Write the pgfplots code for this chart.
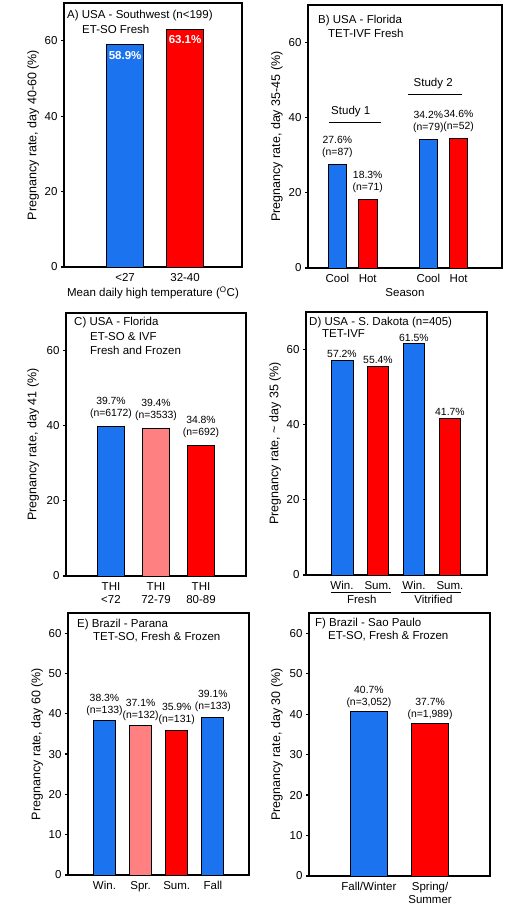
\documentclass[border=0pt]{standalone}
\usepackage{pgfplots}
\pgfplotsset{compat=1.18}
\usepackage{fontspec}
\setmainfont{Liberation Sans}
\definecolor{cblue}{RGB}{28,115,240}
\definecolor{cred}{RGB}{255,0,0}
\definecolor{cpink}{RGB}{255,128,128}
\newcommand{\fT}{\fontsize{11.5}{13}\selectfont}
\newcommand{\fL}{\fontsize{12.5}{14}\selectfont}
\newcommand{\fD}{\fontsize{10.4}{12}\selectfont}
\pgfplotsset{
  panel/.style={
    scale only axis, ybar, bar width=0.61, bar shift=0pt,
    ymin=0, ymax=70, ytick={0,20,40,60},
    /pgf/number format/assume math mode=true,
    tick label style={font=\fT},
    ytick pos=left, tick align=outside, major tick length=3pt,
    major x tick style={draw=none},
    major y tick style={line width=1.2pt, black},
    axis line style={line width=1.7pt},
    clip=false,
    every node near coord/.append style={font=\fD, align=center, black},
    ylabel style={anchor=center, font=\fL},
    xlabel style={font=\fT, at={(axis description cs:0.5,0)}, anchor=center},
    xticklabel style={align=center},
  },
  bblue/.style={fill=cblue, draw=black, line width=0.9pt},
  bred/.style={fill=cred, draw=black, line width=0.9pt},
  bpink/.style={fill=cpink, draw=black, line width=0.9pt},
  lab/.style={nodes near coords, point meta=explicit symbolic},
}
\tikzset{ttl/.style={anchor=west, inner sep=0pt, font=\fT}}
\begin{document}
\begin{tikzpicture}
\useasboundingbox (0pt,0pt) rectangle (521pt,907pt);
% ---------------- A
\begin{axis}[panel, at={(64pt,640pt)}, anchor=south west, width=178pt, height=264pt,
  xmin=-1.02, xmax=1.95, xtick={0,1}, xticklabels={<27,32-40},
  ylabel={Pregnancy rate, day 40-60 (\%)},
  ylabel style={at={(axis description cs:-0.174,0.5)}},
  xlabel={Mean daily high temperature (\textsuperscript{O}C)},
  xlabel style={yshift=-26pt}]
\addplot[bblue, lab, every node near coord/.append style={anchor=north, yshift=-3pt, white, font=\bfseries\fT}] coordinates {(0,58.9) [58.9\%]};
\addplot[bred, lab, every node near coord/.append style={anchor=north, yshift=-3pt, white, font=\bfseries\fT}] coordinates {(1,63.1) [63.1\%]};
\node[ttl, xshift=3pt, yshift=-13pt] at (rel axis cs:0,1) {A) USA - Southwest (n<199)};
\node[ttl, xshift=18pt, yshift=-26pt] at (rel axis cs:0,1) {ET-SO Fresh};
\end{axis}
% ---------------- B
\begin{axis}[panel, at={(308pt,639pt)}, anchor=south west, width=194pt, height=263pt,
  xmin=-0.97, xmax=5.43, xtick={0,1,3,4}, xticklabels={Cool,Hot,Cool,Hot},
  ylabel={Pregnancy rate, day 35-45 (\%)},
  ylabel style={at={(axis description cs:-0.160,0.5)}},
  xlabel={Season}, xlabel style={yshift=-25pt},
  every node near coord/.append style={yshift=3pt}]
\addplot[bblue, lab] coordinates {(0,27.6) [{27.6\%\\(n=87)}]};
\addplot[bred, lab] coordinates {(1,18.3) [{18.3\%\\(n=71)}]};
\addplot[bblue, lab] coordinates {(3,34.2) [{34.2\%\\(n=79)}]};
\addplot[bred, lab] coordinates {(4,34.6) [{34.6\%\\(n=52)}]};
\draw[line width=0.8pt] (axis cs:-0.28,38.8) -- (axis cs:1.43,38.8);
\node[font=\fT] at (axis cs:0.44,41.6) {Study 1};
\draw[line width=0.8pt] (axis cs:2.34,46.3) -- (axis cs:4.1,46.3);
\node[font=\fT] at (axis cs:3.16,49.1) {Study 2};
\node[ttl, xshift=10pt, yshift=-16pt] at (rel axis cs:0,1) {B) USA - Florida};
\node[ttl, xshift=20pt, yshift=-28pt] at (rel axis cs:0,1) {TET-IVF Fresh};
\end{axis}
% ---------------- C
\begin{axis}[panel, at={(66pt,331pt)}, anchor=south west, width=180pt, height=263pt,
  xmin=-1, xmax=3, xtick={0,1,2}, xticklabels={{THI\\<72},{THI\\72-79},{THI\\80-89}},
  ylabel={Pregnancy rate, day 41 (\%)},
  ylabel style={at={(axis description cs:-0.183,0.5)}},
  every node near coord/.append style={yshift=4pt}]
\addplot[bblue, lab] coordinates {(0,39.7) [{39.7\%\\(n=6172)}]};
\addplot[bpink, lab] coordinates {(1,39.4) [{39.4\%\\(n=3533)}]};
\addplot[bred, lab] coordinates {(2,34.8) [{34.8\%\\(n=692)}]};
\node[ttl, xshift=8pt, yshift=-10pt] at (rel axis cs:0,1) {C) USA - Florida};
\node[ttl, xshift=24pt, yshift=-24pt] at (rel axis cs:0,1) {ET-SO \& IVF};
\node[ttl, xshift=24pt, yshift=-37pt] at (rel axis cs:0,1) {Fresh and Frozen};
\end{axis}
% ---------------- D
\begin{axis}[panel, at={(306pt,332pt)}, anchor=south west, width=181pt, height=263pt,
  xmin=-1, xmax=4.03, xtick={0,1,2,3}, xticklabels={Win.,Sum.,Win.,Sum.},
  ylabel={Pregnancy rate, \textasciitilde\ day 35 (\%)},
  ylabel style={at={(axis description cs:-0.171,0.5)}},
  every node near coord/.append style={yshift=-1pt}]
\addplot[bblue, lab] coordinates {(0,57.2) [57.2\%]};
\addplot[bred, lab] coordinates {(1,55.4) [55.4\%]};
\addplot[bblue, lab] coordinates {(2,61.5) [61.5\%]};
\addplot[bred, lab] coordinates {(3,41.7) [41.7\%]};
\draw[line width=0.8pt] (axis cs:-0.3,-4.5) -- (axis cs:1.35,-4.5);
\draw[line width=0.8pt] (axis cs:1.65,-4.5) -- (axis cs:3.3,-4.5);
\node[font=\fT] at (axis cs:0.55,-6.6) {Fresh};
\node[font=\fT] at (axis cs:2.54,-6.6) {Vitrified};
\node[ttl, xshift=3pt, yshift=-11pt] at (rel axis cs:0,1) {D) USA - S. Dakota (n=405)};
\node[ttl, xshift=16pt, yshift=-22pt] at (rel axis cs:0,1) {TET-IVF};
\end{axis}
% ---------------- E
\begin{axis}[panel, at={(68pt,32pt)}, anchor=south west, width=181pt, height=262pt,
  ymax=65, ytick={0,10,20,30,40,50,60},
  xmin=-1.01, xmax=4, xtick={0,1,2,3}, xticklabels={Win.,Spr.,Sum.,Fall},
  ylabel={Pregnancy rate, day 60 (\%)},
  ylabel style={at={(axis description cs:-0.171,0.5)}},
  every node near coord/.append style={yshift=1.5pt}]
\addplot[bblue, lab] coordinates {(0,38.3) [{38.3\%\\(n=133)}]};
\addplot[bpink, lab] coordinates {(1,37.1) [{37.1\%\\(n=132)}]};
\addplot[bred, lab] coordinates {(2,35.9) [{35.9\%\\(n=131)}]};
\addplot[bblue, lab] coordinates {(3,39.1) [{39.1\%\\(n=133)}]};
\node[ttl, xshift=9pt, yshift=-12pt] at (rel axis cs:0,1) {E) Brazil - Parana};
\node[ttl, xshift=25pt, yshift=-24pt] at (rel axis cs:0,1) {TET-SO, Fresh \& Frozen};
\end{axis}
% ---------------- F
\begin{axis}[panel, at={(309pt,31pt)}, anchor=south west, width=181pt, height=263pt,
  ymax=65, ytick={0,10,20,30,40,50,60},
  xmin=-0.98, xmax=1.98, xtick={0,1}, xticklabels={Fall/Winter,{Spring/\\Summer}},
  ylabel={Pregnancy rate, day 30 (\%)},
  ylabel style={at={(axis description cs:-0.177,0.5)}}]
\addplot[bblue, lab] coordinates {(0,40.7) [{40.7\%\\(n=3,052)}]};
\addplot[bred, lab] coordinates {(1,37.7) [{37.7\%\\(n=1,989)}]};
\node[ttl, xshift=6pt, yshift=-11pt] at (rel axis cs:0,1) {F) Brazil - Sao Paulo};
\node[ttl, xshift=19pt, yshift=-23pt] at (rel axis cs:0,1) {ET-SO, Fresh \& Frozen};
\end{axis}
\end{tikzpicture}
\end{document}
